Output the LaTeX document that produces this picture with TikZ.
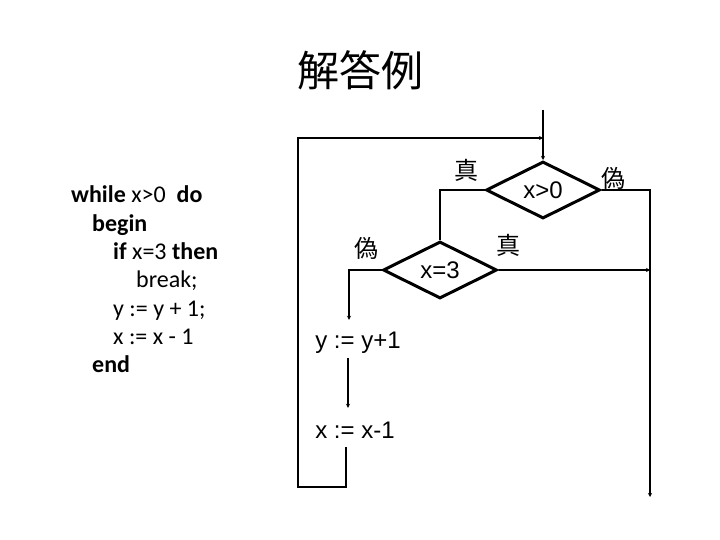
\documentclass[tikz,border=0pt]{standalone}
\usepackage{fontspec}
\setmainfont{Carlito}
\newfontfamily\jpfont{Noto Sans CJK JP}
\newfontfamily\chartfont{Liberation Sans}
\usetikzlibrary{positioning,arrows.meta,shapes.geometric}

\begin{document}
\begin{tikzpicture}[
    x=1pt, y=-1pt,
    code/.style  = {font=\fontsize{24}{28}\selectfont, inner sep=0pt},
    cond/.style  = {draw, diamond, line width=3pt, inner sep=0pt, aspect=2,
                    minimum width=114pt, minimum height=57pt,
                    font=\chartfont\fontsize{24}{28}\selectfont},
    proc/.style  = {font=\chartfont\fontsize{24}{28}\selectfont, inner sep=0pt,
                    text height=17pt, text depth=5pt},
    tf/.style    = {font=\jpfont\fontsize{24}{26}\selectfont, inner sep=0pt},
    ln/.style    = {line width=1.8pt},
    ar/.style    = {ln, -{Stealth[length=4pt,width=4pt]}},
    back/.style  = {line width=1.1pt, -{Stealth[length=4pt,width=4pt]}},
]
\fill[white] (0,0) rectangle (720,540);
\useasboundingbox (0,0) rectangle (720,540);

% ---------------- title ----------------
\node[font=\jpfont\fontsize{42}{46}\selectfont] (title) at (360,70) {解答例};

% ---------------- program text ----------------
\foreach \ind/\txt [count=\i from 0] in {
    0/{\textbf{while} x>0\ \ \textbf{do}},
    21/{\textbf{begin}},
    42/{\textbf{if} x=3 \textbf{then}},
    65/{break;},
    42/{y := y + 1;},
    42/{x := x - 1},
    21/{\textbf{end}}}
  \node[code, anchor=base west] (line\i) at (71+\ind, 203+28.3*\i) {\txt};

% ---------------- conditions ----------------
\node[cond] (xgt) at (543,190) {x>0};
\node[cond] (xeq) at (440,270) {x=3};

\node[tf] (gtT) at (466,170) {真};
\node[tf] (gtF) at (613,178) {偽};
\node[tf] (eqT) at (508,245) {真};
\node[tf] (eqF) at (366,248) {偽};

% ---------------- statements ----------------
\node[proc] (yp1) at (358,342) {y := y+1};
\node[proc] (xm1) at (355,432) {x := x-1};

% ---------------- connectors ----------------
\coordinate (entry) at (543,110);
\coordinate (exit) at (650,497);
\coordinate (loopbot) at (298,487);
\coordinate (looptop) at (543,138);

\draw[ar] (entry) -- (xgt.north);
\draw[ln] (xgt.west) -| (xeq.north);
\draw[ar] (xgt.east) -| (exit);
\draw[ar] (xeq.east) -- (xeq.east -| exit);
\draw[ar, shorten >=11pt] (xeq.west) -| ([xshift=-9pt]yp1.north);
\draw[ar, shorten <=5pt, shorten >=13pt]
    ([xshift=-10pt]yp1.south) -- ([xshift=-10pt]yp1.south |- xm1.north);

% loop back to the test
\draw[back, shorten <=4pt] ([xshift=-9pt]xm1.south) |- (loopbot) |- (looptop);

\end{tikzpicture}
\end{document}
